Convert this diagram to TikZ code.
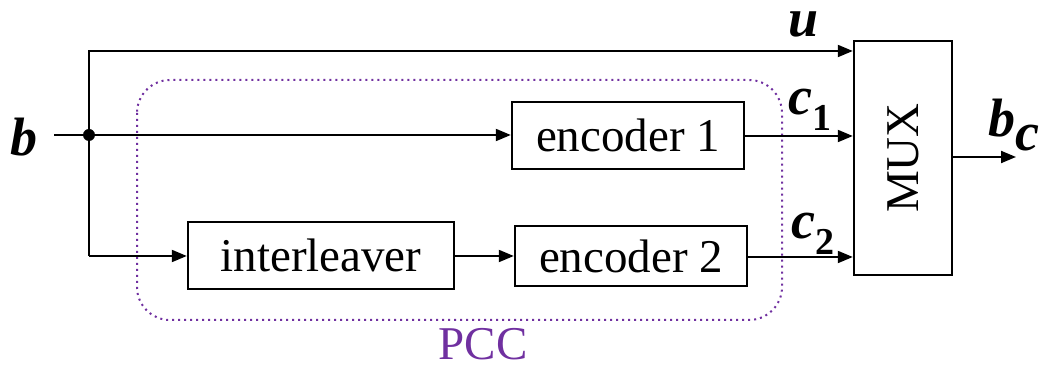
\documentclass[tikz,border=0pt]{standalone}
\usepackage{fontspec}
\setmainfont{Liberation Serif}
\usetikzlibrary{arrows.meta}
\definecolor{pccpurple}{RGB}{112,48,160}
\tikzset{
  blk/.style={draw, line width=1.2pt, rectangle, inner sep=0pt, font=\fontsize{23.5}{28}\selectfont},
  wire/.style={line width=1pt},
  arr/.style={wire, -{Triangle[length=7.5pt,width=6pt]}},
  sym/.style={inner sep=0pt, font=\fontsize{27}{32}\selectfont\bfseries\itshape}
}
\newcommand{\subidx}[1]{\raisebox{-0.3em}{\fontsize{19}{22}\selectfont\bfseries\upshape #1}}
\begin{document}
\begin{tikzpicture}[x=0.5pt, y=-0.5pt]
\useasboundingbox (0,0) rectangle (1041,367);

% blocks
\node[blk, minimum width=116pt, minimum height=33.5pt] (enc1) at (628,135.5) {encoder 1};
\node[blk, minimum width=133pt, minimum height=33.5pt] (intl) at (321,255.5) {interleaver};
\node[blk, minimum width=116pt, minimum height=30pt] (enc2) at (631,256) {encoder 2};
\node[blk, minimum width=49pt, minimum height=117pt] (mux) at (903,158) {};
\node[rotate=90, font=\fontsize{23.5}{28}\selectfont] (muxlbl) at (mux.center) {MUX};

% parallel concatenated code boundary
\draw[pccpurple, line width=1pt, dotted, rounded corners=16.5pt] (137,80) rectangle (782,320);
\node[text=pccpurple, font=\fontsize{23.5}{28}\selectfont] (pcc) at (483,344) {PCC};

% input and branching
\node[sym] (b) at (24,137) {b};
\coordinate (in) at (54,135);
\coordinate (jn) at (89,135);
\coordinate (top) at (89,51);
\coordinate (bot) at (89,256);
\fill (jn) circle (3pt);
\draw[arr] (in) -- (enc1.west |- jn);
\draw[arr] (bot) -- (top) -- (top -| mux.west);
\draw[arr] (bot) -- (intl.west |- bot);
\draw[arr] (intl.east |- bot) -- (enc2.west |- bot);

% encoder outputs
\coordinate (e1o) at (enc1.east |- 0,136);
\coordinate (e2o) at (enc2.east |- 0,257);
\draw[arr] (e1o) -- (e1o -| mux.west);
\draw[arr] (e2o) -- (e2o -| mux.west);

% multiplexer output
\coordinate (mo) at (mux.east |- 0,157);
\coordinate (out) at (1016,157);
\draw[arr] (mo) -- (out);

% signal labels
\node[sym, anchor=base] (u) at (804,37) {u};
\node[sym] (c1) at (810,110) {c\subidx{1}};
\node[sym] (c2) at (813,234) {c\subidx{2}};
\node[sym] (bc) at (1014,125) {b\raisebox{-0.25em}{c}};
\end{tikzpicture}
\end{document}
